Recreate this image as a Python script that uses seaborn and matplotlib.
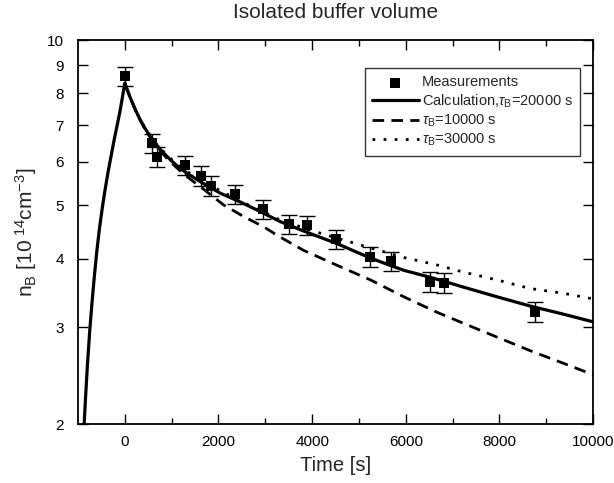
import numpy as np
import pandas as pd
import matplotlib
matplotlib.use("Agg")
import matplotlib.pyplot as plt
from matplotlib.ticker import FixedLocator, FixedFormatter, NullLocator
import seaborn as sns

# measured points
meas_t = [0, 590, 697, 1286, 1620, 1834, 2352, 2957, 3504, 3895, 4520, 5230, 5687, 6510, 6808, 8763]
meas_n = [8.60, 6.49, 6.13, 5.92, 5.66, 5.43, 5.24, 4.92, 4.62, 4.60, 4.34, 4.03, 3.96, 3.63, 3.61, 3.20]
meas_err = [0.34, 0.26, 0.25, 0.24, 0.23, 0.22, 0.21, 0.20, 0.19, 0.19, 0.18, 0.17, 0.16, 0.15, 0.15, 0.13]

# calculation, tau_B = 20000 s
calc20_t = [-890, -868, -840, -800, -750, -704, -650, -597, -540, -476, -420, -356, -290, -228, -160, -100,
            -50, 0, 100, 198, 300, 412, 520, 625, 760, 910, 1050, 1194, 1400, 1620,
            2047, 2473, 2900, 3326, 3823, 4534, 5245, 5956, 6525, 7235, 7946, 8657, 9367, 10000]
calc20_n = [1.88, 2.00, 2.22, 2.55, 2.95, 3.30, 3.72, 4.13, 4.55, 4.98, 5.35, 5.76, 6.17, 6.58, 7.02, 7.44,
            7.88, 8.35, 7.92, 7.56, 7.24, 6.95, 6.72, 6.53, 6.32, 6.13, 5.97, 5.83, 5.67, 5.52,
            5.26, 5.07, 4.87, 4.67, 4.49, 4.26, 4.01, 3.81, 3.70, 3.55, 3.41, 3.28, 3.17, 3.07]

# tau_B = 10000 s
calc10_t = [0, 100, 198, 300, 412, 520, 625, 760, 910, 1050, 1200, 1400, 1600, 2111, 2544, 2970, 3256,
            3823, 4534, 5245, 5956, 6650, 7235, 7946, 8657, 9367, 10000]
calc10_n = [8.35, 7.91, 7.55, 7.22, 6.93, 6.70, 6.50, 6.28, 6.08, 5.92, 5.76, 5.58, 5.42, 5.01, 4.77, 4.57,
            4.41, 4.14, 3.89, 3.66, 3.41, 3.20, 3.05, 2.88, 2.72, 2.58, 2.46]

# tau_B = 30000 s
calc30_t = [0, 100, 198, 300, 412, 520, 625, 760, 910, 1050, 1200, 1400, 1620, 2050, 2644, 3326, 4179,
            5103, 5956, 6650, 7235, 7946, 8657, 9367, 10000]
calc30_n = [8.35, 7.93, 7.57, 7.25, 6.97, 6.74, 6.55, 6.35, 6.16, 6.01, 5.87, 5.71, 5.57, 5.31, 5.01, 4.70,
            4.45, 4.22, 4.02, 3.90, 3.78, 3.66, 3.53, 3.46, 3.38]

x_major = [0, 2000, 4000, 6000, 8000, 10000]
x_minor = [1000, 3000, 5000, 7000, 9000]
y_ticks = [2, 3, 4, 5, 6, 7, 8, 9, 10]
y_labels = ["2", "3", "4", "5", "6", "7", "8", "9", "10"]

sns.set_theme(style="ticks")
plt.rcParams["font.family"] = ["Liberation Sans", "DejaVu Sans"]
plt.rcParams["mathtext.fontset"] = "custom"
plt.rcParams["mathtext.rm"] = "Liberation Sans"
plt.rcParams["mathtext.it"] = "Liberation Sans:italic"

fig = plt.figure(figsize=(6.14, 4.83), dpi=100)
ax = fig.add_axes([0.127, 0.122, 0.839, 0.795])

df20 = pd.DataFrame({"t": calc20_t, "n": calc20_n})
df10 = pd.DataFrame({"t": calc10_t, "n": calc10_n})
df30 = pd.DataFrame({"t": calc30_t, "n": calc30_n})

lab20 = r"Calculation,$\tau_\mathregular{B}$=20000 s"
lab10 = r"$\tau_\mathregular{B}$=10000 s"
lab30 = r"$\tau_\mathregular{B}$=30000 s"

sns.lineplot(data=df10, x="t", y="n", ax=ax, color="black", lw=2.0, sort=False, estimator=None,
             linestyle=(0, (4.2, 2.6)), label=lab10, zorder=2)
sns.lineplot(data=df30, x="t", y="n", ax=ax, color="black", lw=2.0, sort=False, estimator=None,
             linestyle=(0, (1.0, 3.0)), label=lab30, zorder=2)
sns.lineplot(data=df20, x="t", y="n", ax=ax, color="black", lw=2.3, sort=False, estimator=None,
             label=lab20, zorder=3)

ax.errorbar(meas_t, meas_n, yerr=meas_err, fmt="none", ecolor="black", elinewidth=1.0,
            capsize=6, capthick=1.0, zorder=4)
sns.scatterplot(x=meas_t, y=meas_n, ax=ax, marker="s", s=55, color="black", edgecolor="black",
                linewidth=0, label="Measurements", zorder=5)

ax.set_yscale("log")
ax.set_xlim(-1000, 10000)
ax.set_ylim(2, 10)
ax.yaxis.set_major_locator(FixedLocator(y_ticks))
ax.yaxis.set_major_formatter(FixedFormatter(y_labels))
ax.yaxis.set_minor_locator(NullLocator())
ax.xaxis.set_major_locator(FixedLocator(x_major))
ax.xaxis.set_minor_locator(FixedLocator(x_minor))

ax.tick_params(axis="both", which="both", direction="in", top=True, right=True, colors="black",
               labelsize=11)
ax.tick_params(axis="x", which="major", length=7, width=1.0, pad=8)
ax.tick_params(axis="y", which="major", length=7, width=1.0, pad=10)
ax.tick_params(axis="x", which="minor", length=4, width=1.0)
for s in ax.spines.values():
    s.set_visible(True)
    s.set_color("black")
    s.set_linewidth(1.3)

ax.set_xlabel("Time [s]", fontsize=14.5, labelpad=5)
ax.set_ylabel(r"n$_\mathregular{B}$ [10$^\mathregular{\ 14}$cm$^\mathregular{-3}$]", fontsize=15, labelpad=6)
ax.set_title("Isolated buffer volume", fontsize=15, pad=16)

handles, labels = ax.get_legend_handles_labels()
order = [labels.index("Measurements"), labels.index(lab20), labels.index(lab10), labels.index(lab30)]
leg = ax.legend([handles[i] for i in order], [labels[i] for i in order],
                loc="upper right", bbox_to_anchor=(0.975, 0.927), borderaxespad=0,
                fontsize=10.5, frameon=True, fancybox=False, edgecolor="black",
                handlelength=3.2, handletextpad=0.2, labelspacing=0.2, borderpad=0.5)
leg.get_frame().set_linewidth(1.0)

fig.savefig("out.png", dpi=100)
